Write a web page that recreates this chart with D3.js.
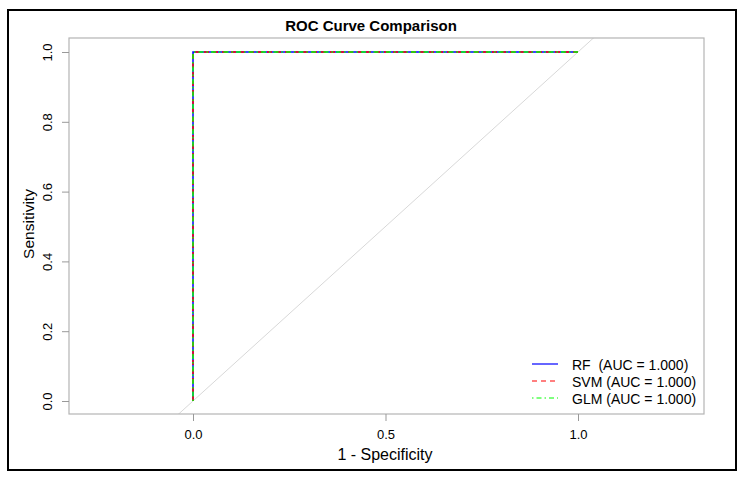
<!DOCTYPE html>
<html><head><meta charset="utf-8">
<script src="https://cdn.jsdelivr.net/npm/d3@7"></script>
<style>body{margin:0;background:#fff}svg{display:block}text{font-family:"Liberation Sans",Arial,sans-serif}</style>
</head><body>
<svg id="c" width="745" height="480"></svg>
<script>
const seriesNames = ["RF", "SVM", "GLM"];
const aucValues = [1.000, 1.000, 1.000];
const fprRF = [0, 0, 1], tprRF = [0, 1, 1];
const fprSVM = [0, 0, 1], tprSVM = [0, 1, 1];
const fprGLM = [0, 0, 1], tprGLM = [0, 1, 1];
const xTicks = [0.0, 0.5, 1.0];
const yTicks = [0.0, 0.2, 0.4, 0.6, 0.8, 1.0];
const legendLabels = ["RF  (AUC = 1.000)", "SVM (AUC = 1.000)", "GLM (AUC = 1.000)"];

const svg = d3.select("#c");
const L = 69, R = 704, T = 38, B = 414;
const x = d3.scaleLinear().domain([0, 1]).range([193, 578]);
const y = d3.scaleLinear().domain([0, 1]).range([401, 52]);

svg.append("rect").attr("x", 8).attr("y", 10).attr("width", 728).attr("height", 460)
  .attr("fill", "none").attr("stroke", "#000").attr("stroke-width", 2);

svg.append("text").attr("x", 371).attr("y", 31).attr("text-anchor", "middle")
  .attr("font-size", 15).attr("font-weight", "bold").text("ROC Curve Comparison");

// diagonal
svg.append("clipPath").attr("id", "cp").append("rect")
  .attr("x", L).attr("y", T).attr("width", R - L).attr("height", B - T);
svg.append("line").attr("clip-path", "url(#cp)")
  .attr("x1", x(-0.05)).attr("y1", y(-0.05)).attr("x2", x(1.06)).attr("y2", y(1.06))
  .attr("stroke", "#d8d8d8").attr("stroke-width", 1);

svg.append("rect").attr("x", L).attr("y", T).attr("width", R - L).attr("height", B - T)
  .attr("fill", "none").attr("stroke", "#b4b4b4").attr("stroke-width", 1.2);

// axes
const xAxis = d3.axisBottom(x).tickValues(xTicks).tickFormat(d3.format(".1f")).tickSize(7).tickPadding(9);
const gx = svg.append("g").attr("transform", `translate(0,${B})`).call(xAxis);
gx.select(".domain").remove();
gx.selectAll("line").attr("stroke", "#999");
gx.selectAll("text").attr("font-size", 13).attr("fill", "#000").attr("font-family", '"Liberation Sans",Arial,sans-serif');

const yAxis = d3.axisLeft(y).tickValues(yTicks).tickFormat(d3.format(".1f")).tickSize(7).tickPadding(8);
const gy = svg.append("g").attr("transform", `translate(${L},0)`).call(yAxis);
gy.select(".domain").remove();
gy.selectAll("line").attr("stroke", "#999");
gy.selectAll("text").attr("font-size", 13).attr("fill", "#000").attr("font-family", '"Liberation Sans",Arial,sans-serif')
  .attr("text-anchor", "middle").attr("x", 0)
  .attr("transform", "translate(-21.5,0) rotate(-90)")
  .attr("dy", "0.35em");

svg.append("text").attr("x", 385).attr("y", 460).attr("text-anchor", "middle").attr("font-size", 16).text("1 - Specificity");
svg.append("text").attr("transform", "translate(34,224) rotate(-90)").attr("text-anchor", "middle").attr("font-size", 15.5).text("Sensitivity");

// curves
const line = d3.line().x(d => x(d[0])).y(d => y(d[1]));
const curves = [
  {fpr: fprRF, tpr: tprRF, color: "#0000ff", dash: null},
  {fpr: fprSVM, tpr: tprSVM, color: "#ff0000", dash: "5,4"},
  {fpr: fprGLM, tpr: tprGLM, color: "#00ff00", dash: "1.5,3,5,3"}
];
curves.forEach(c => {
  svg.append("path").datum(c.fpr.map((f, i) => [f, c.tpr[i]]))
    .attr("d", line).attr("fill", "none").attr("stroke", c.color).attr("stroke-width", 1.5)
    .attr("stroke-dasharray", c.dash);
});

// legend
const ly = [364, 381, 398];
curves.forEach((c, i) => {
  svg.append("line").attr("x1", 532).attr("x2", 558).attr("y1", ly[i]).attr("y2", ly[i])
    .attr("stroke", c.color).attr("stroke-width", 1.2).attr("stroke-dasharray", c.dash);
  svg.append("text").attr("x", 572).attr("y", ly[i] + 6).attr("font-size", 14)
    .attr("xml:space", "preserve").style("white-space", "pre").text(legendLabels[i]);
});
</script>
</body></html>
